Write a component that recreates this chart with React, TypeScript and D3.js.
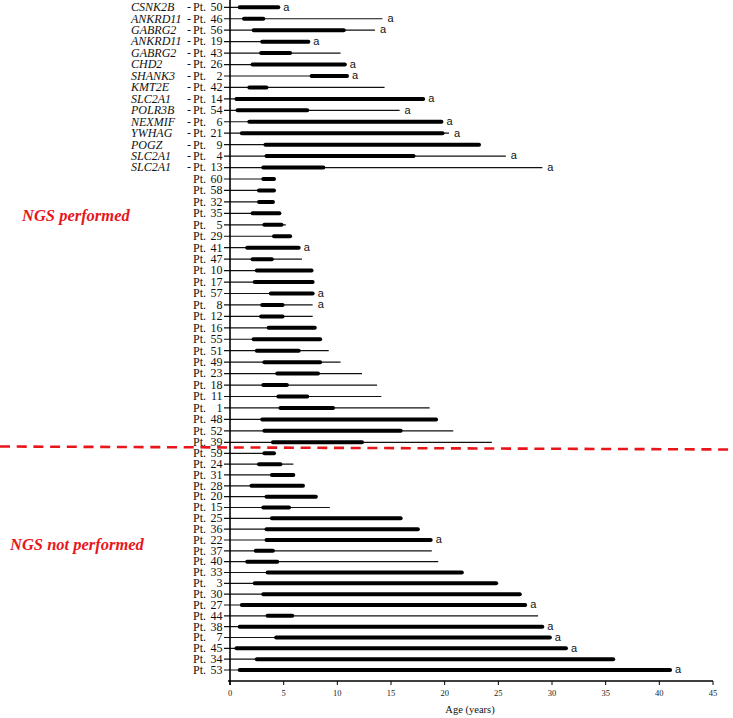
import React from 'react';
import * as d3 from 'd3';

// NGS performed group (top to bottom)
const patientsNGS = ['50', '46', '56', '19', '43', '26', '2', '42', '14', '54', '6', '21', '9', '4', '13',
  '60', '58', '32', '35', '5', '29', '41', '47', '10', '17', '57', '8', '12', '16', '55', '51', '49', '23',
  '18', '11', '1', '48', '52', '39'];
const genesNGS = ['CSNK2B', 'ANKRD11', 'GABRG2', 'ANKRD11', 'GABRG2', 'CHD2', 'SHANK3', 'KMT2E', 'SLC2A1',
  'POLR3B', 'NEXMIF', 'YWHAG', 'POGZ', 'SLC2A1', 'SLC2A1'];
const onsetNGS = [0.9, 1.3, 2.2, 3.0, 2.9, 2.1, 7.6, 1.8, 0.6, 0.7, 1.8, 1.1, 3.3, 3.4, 3.1,
  3.1, 2.7, 2.7, 2.1, 3.2, 4.1, 1.6, 2.1, 2.5, 2.3, 3.8, 3.0, 2.9, 3.6, 2.2, 2.5, 3.2, 4.4,
  3.1, 4.5, 4.7, 3.0, 3.2, 4.0];
const activeEndNGS = [4.5, 3.1, 10.6, 7.3, 5.6, 10.7, 10.9, 3.4, 18.0, 7.2, 19.7, 19.8, 23.2, 17.1, 8.7,
  4.1, 4.1, 4.0, 4.6, 4.8, 5.6, 6.4, 3.9, 7.6, 7.7, 7.7, 4.9, 4.9, 7.9, 8.4, 6.4, 8.4, 8.2,
  5.3, 7.2, 9.6, 19.2, 15.9, 12.3];
const ageNGS = [4.5, 14.2, 13.5, 7.3, 10.3, 10.7, 10.9, 14.4, 18.0, 15.8, 19.7, 20.4, 23.2, 25.7, 29.1,
  4.1, 4.1, 4.0, 4.6, 5.2, 5.6, 6.4, 6.7, 7.6, 7.7, 7.7, 7.7, 7.7, 7.9, 8.4, 9.2, 10.3, 12.3,
  13.7, 14.1, 18.6, 19.2, 20.8, 24.4];
const flagNGS = ['a', 'a', 'a', 'a', '', 'a', 'a', '', 'a', 'a', 'a', 'a', '', 'a', 'a',
  '', '', '', '', '', '', 'a', '', '', '', 'a', 'a', '', '', '', '', '', '',
  '', '', '', '', '', ''];

// NGS not performed group
const patientsNoNGS = ['59', '24', '31', '28', '20', '15', '25', '36', '22', '37', '40', '33', '3', '30',
  '27', '44', '38', '7', '45', '34', '53'];
const onsetNoNGS = [3.2, 2.7, 3.9, 2.0, 3.4, 3.1, 3.9, 3.4, 3.4, 2.4, 1.6, 3.5, 2.3, 3.1,
  1.1, 3.5, 0.9, 4.3, 0.6, 2.5, 0.9];
const activeEndNoNGS = [4.1, 4.7, 5.9, 6.8, 8.0, 5.5, 15.9, 17.5, 18.7, 4.0, 4.4, 21.6, 24.8, 27.0,
  27.5, 5.8, 29.1, 29.8, 31.3, 35.7, 41.0];
const ageNoNGS = [4.1, 5.9, 5.9, 6.8, 8.0, 9.3, 15.9, 17.5, 18.7, 18.8, 19.4, 21.6, 24.8, 27.0,
  27.5, 28.7, 29.1, 29.8, 31.3, 35.7, 41.0];
const flagNoNGS = ['', '', '', '', '', '', '', '', 'a', '', '', '', '', '',
  'a', '', 'a', 'a', 'a', '', 'a'];

const W = 733;
const H = 718;
const serif = '"Liberation Serif", "Times New Roman", serif';
const sans = '"Liberation Sans", Arial, sans-serif';

type Row = { id: string; gene: string; onset: number; activeEnd: number; age: number; flag: string; y: number };

export default function App() {
  const x = d3.scaleLinear().domain([0, 45]).range([230, 713]);
  const yTop = d3.scalePoint().domain(patientsNGS).range([7.3, 442.3]);
  const yBot = d3.scalePoint().domain(patientsNoNGS).range([453.3, 670]);

  const rows: Row[] = [
    ...patientsNGS.map((id, i) => ({
      id, gene: genesNGS[i] || '', onset: onsetNGS[i], activeEnd: activeEndNGS[i],
      age: ageNGS[i], flag: flagNGS[i], y: yTop(id) as number,
    })),
    ...patientsNoNGS.map((id, i) => ({
      id, gene: '', onset: onsetNoNGS[i], activeEnd: activeEndNoNGS[i],
      age: ageNoNGS[i], flag: flagNoNGS[i], y: yBot(id) as number,
    })),
  ];

  const axisY = 681;
  const x0 = x(0);

  return (
    <div style={{ position: 'absolute', left: 0, top: 0 }}>
      <svg width={W} height={H} viewBox={`0 0 ${W} ${H}`} style={{ display: 'block', background: '#fff' }}>
        {/* patient rows */}
        {rows.map(r => (
          <g key={r.id}>
            <line x1={x0 - 6} x2={x(r.age)} y1={r.y} y2={r.y} stroke="#111" strokeWidth={1.2} />
            <line x1={x(r.onset)} x2={x(r.activeEnd)} y1={r.y} y2={r.y}
              stroke="#000" strokeWidth={4} strokeLinecap="round" />
            {r.flag && (
              <text x={x(Math.max(r.age, r.activeEnd)) + 5} y={r.y} dy="0.3em"
                fontFamily={sans} fontSize={11} fill="#111">{r.flag}</text>
            )}
            {r.gene && (
              <>
                <text x={131} y={r.y} dy="0.32em" fontFamily={serif} fontStyle="italic"
                  fontSize={12} fill="#111">{r.gene}</text>
                <text x={187} y={r.y} dy="0.32em" fontFamily={serif} fontSize={12} fill="#111">-</text>
              </>
            )}
            <text x={193} y={r.y} dy="0.32em" fontFamily={serif} fontSize={12} fill="#111">Pt.</text>
            <text x={222.5} y={r.y} dy="0.32em" textAnchor="end" fontFamily={serif} fontSize={12} fill="#111">{r.id}</text>
          </g>
        ))}

        {/* y axis */}
        <line x1={x0} x2={x0} y1={0} y2={axisY + 4} stroke="#000" strokeWidth={1.6} />

        {/* x axis */}
        <line x1={x0 - 2} x2={x(45)} y1={axisY} y2={axisY} stroke="#000" strokeWidth={1.6} />
        {x.ticks(9).map(t => (
          <g key={t}>
            <line x1={x(t)} x2={x(t)} y1={axisY} y2={axisY + 4} stroke="#000" strokeWidth={1} />
            <text x={x(t)} y={axisY + 15} textAnchor="middle" fontFamily={serif} fontSize={8.5} fill="#222">{t}</text>
          </g>
        ))}
        <text x={470} y={713} textAnchor="middle" fontFamily={serif} fontSize={10.5} fill="#111">Age (years)</text>

        {/* group separator */}
        <line x1={0} x2={W} y1={446.5} y2={449.5} stroke="#e8161b" strokeWidth={2.6} strokeDasharray="10 6.7" />

        <text x={22} y={220.5} fontFamily={serif} fontStyle="italic" fontWeight="bold" fontSize={16.5} fill="#e8161b">NGS performed</text>
        <text x={10} y={549.5} fontFamily={serif} fontStyle="italic" fontWeight="bold" fontSize={16.5} fill="#e8161b">NGS not performed</text>
      </svg>
    </div>
  );
}
